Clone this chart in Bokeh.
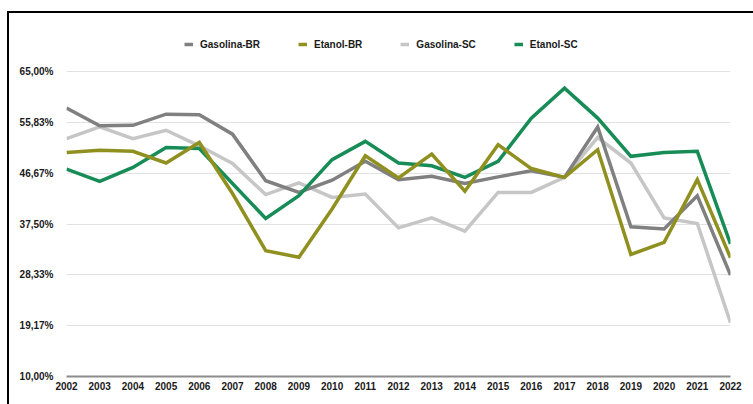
from bokeh.plotting import figure
from bokeh.models import Range1d, FixedTicker, CustomJSTickFormatter, Legend, LegendItem
from bokeh.embed import file_html
from bokeh.resources import INLINE

# Share of the price (in %) per year
years = list(range(2002, 2023))
gasolina_br = [58.4, 55.2, 55.3, 57.3, 57.2, 53.7, 45.3, 43.2, 45.4, 48.8, 45.5,
               46.1, 44.8, 46.0, 47.1, 45.9, 55.0, 37.0, 36.6, 42.6, 28.3]
etanol_br = [50.4, 50.8, 50.6, 48.5, 52.2, 43.0, 32.7, 31.5, 40.2, 49.8, 45.8,
             50.1, 43.4, 51.8, 47.5, 45.9, 50.9, 32.0, 34.2, 45.5, 31.4]
gasolina_sc = [52.9, 55.0, 52.9, 54.4, 51.6, 48.4, 42.8, 44.9, 42.3, 42.9, 36.8,
               38.6, 36.2, 43.2, 43.2, 45.9, 53.1, 48.5, 38.6, 37.6, 19.7]
etanol_sc = [47.4, 45.2, 47.7, 51.3, 51.1, 44.8, 38.5, 42.6, 49.1, 52.4, 48.5,
             48.0, 45.9, 48.8, 56.6, 62.0, 56.6, 49.7, 50.4, 50.6, 33.9]
y_ticks = [10.0, 19.17, 28.33, 37.5, 46.67, 55.83, 65.0]

FONT = "Liberation Sans"
TEXT = "#1a1a1a"

# plot frame reaches up to the page frame; the headroom above 65 % holds the legend
p = figure(width=753, height=404, output_backend="svg", toolbar_location=None,
           x_range=Range1d(2002, 2022), y_range=Range1d(10, 75.46),
           min_border_left=66, min_border_right=23, min_border_top=13, min_border_bottom=28)
p.outline_line_color = None
p.background_fill_color = "white"
# transparent border area so the page frame painted behind the canvas shows through
p.border_fill_color = None
p.styles = {
    "background": "linear-gradient(#000, #000) 7px 11px / 2px 400px no-repeat, "
                  "linear-gradient(#000, #000) 7px 11px / 760px 2px no-repeat, #fff",
}

# axes
p.xaxis.ticker = FixedTicker(ticks=years)
p.xaxis.axis_line_color = "#8c8c8c"
p.xaxis.axis_line_width = 2
p.xaxis.major_tick_line_color = None
p.xaxis.minor_tick_line_color = None
p.xaxis.major_tick_out = 0
p.xaxis.major_label_standoff = 5
p.xaxis.major_label_text_font = FONT
p.xaxis.major_label_text_font_style = "bold"
p.xaxis.major_label_text_font_size = "10px"
p.xaxis.major_label_text_color = TEXT

p.yaxis.ticker = FixedTicker(ticks=y_ticks)
p.yaxis.formatter = CustomJSTickFormatter(code="return tick.toFixed(2).replace('.', ',') + '%';")
p.yaxis.axis_line_color = None
p.yaxis.major_tick_line_color = None
p.yaxis.minor_tick_line_color = None
p.yaxis.major_tick_out = 0
p.yaxis.major_label_standoff = 13
p.yaxis.major_label_text_font = FONT
p.yaxis.major_label_text_font_style = "bold"
p.yaxis.major_label_text_font_size = "10px"
p.yaxis.major_label_text_color = TEXT

p.xgrid.grid_line_color = None
p.ygrid.grid_line_color = "#e2e2e2"
p.ygrid.grid_line_width = 1

# series (drawing order: light lines underneath)
series = {
    "Gasolina-BR": (gasolina_br, "#808080"),
    "Etanol-BR": (etanol_br, "#909020"),
    "Gasolina-SC": (gasolina_sc, "#c6c6c6"),
    "Etanol-SC": (etanol_sc, "#178c56"),
}
renderers = {}
for name in ["Gasolina-SC", "Gasolina-BR", "Etanol-SC", "Etanol-BR"]:
    vals, color = series[name]
    renderers[name] = p.line(years, vals, line_color=color, line_width=3.5, line_join="miter")

legend = Legend(
    items=[LegendItem(label=n, renderers=[renderers[n]]) for n in
           ["Gasolina-BR", "Etanol-BR", "Gasolina-SC", "Etanol-SC"]],
    orientation="horizontal",
    location=(118, 326),
    margin=0,
    glyph_width=9, glyph_height=12, label_standoff=7, spacing=38, padding=0,
    label_text_font=FONT, label_text_font_style="bold", label_text_font_size="10px",
    label_text_color=TEXT, border_line_color=None, background_fill_alpha=0,
)
p.add_layout(legend, "center")

open("out.html", "w").write(file_html(p, INLINE))
